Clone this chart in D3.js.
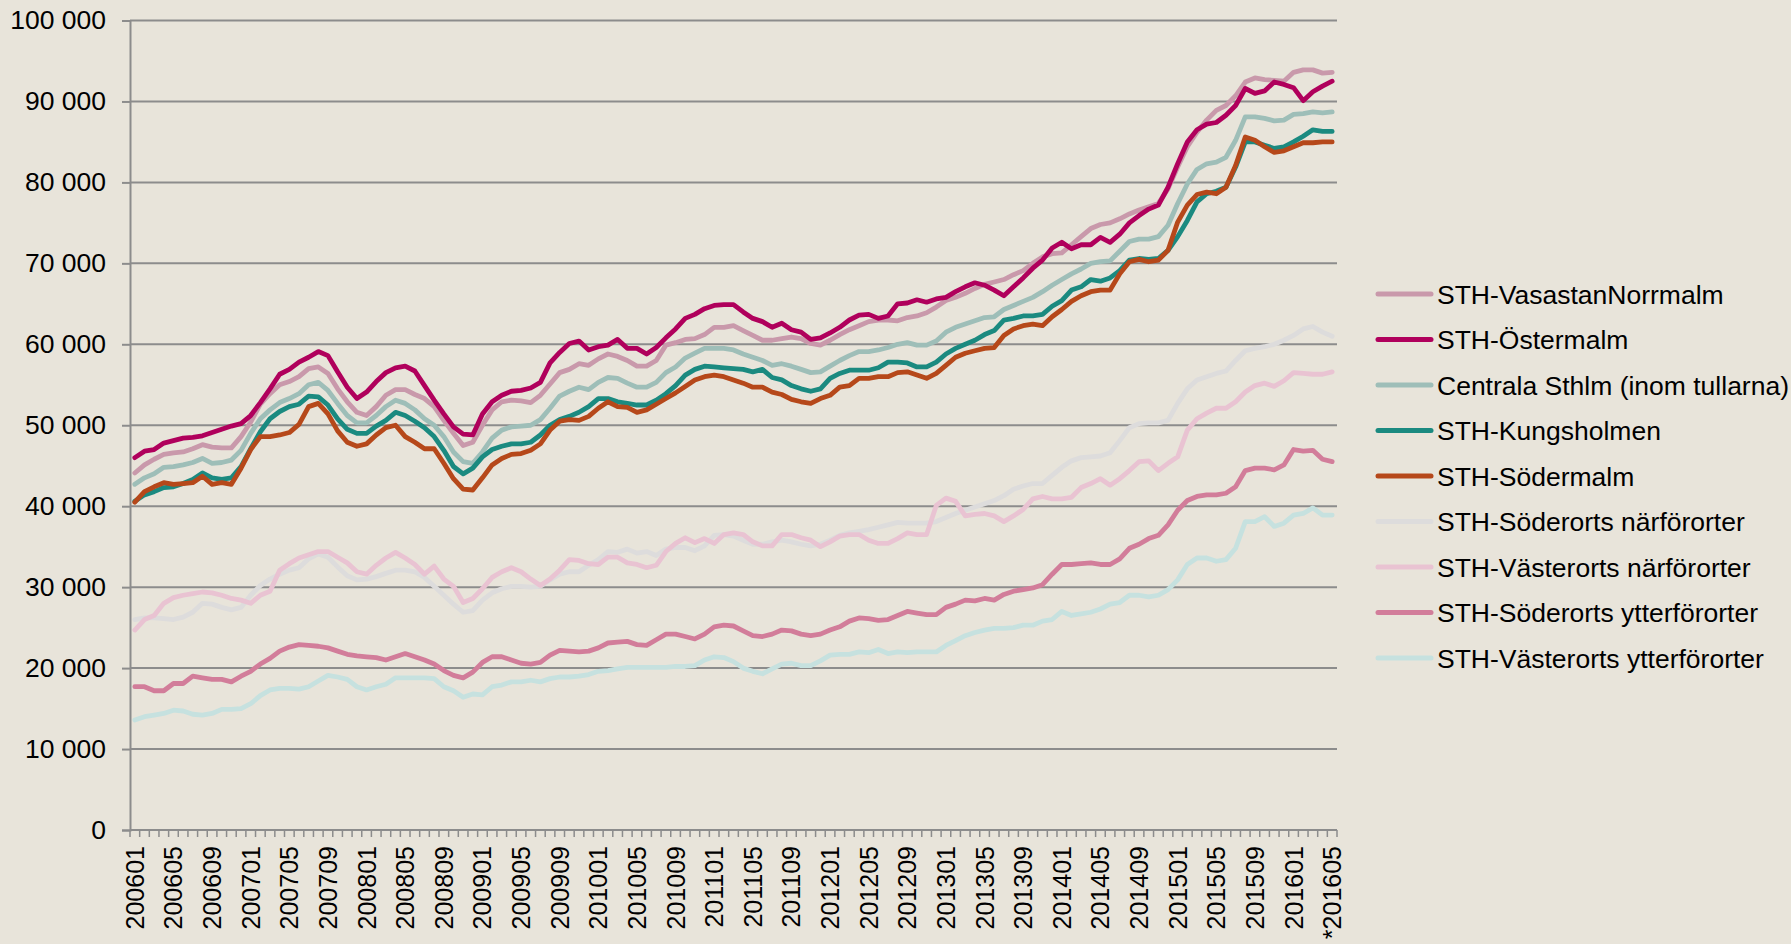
<!DOCTYPE html>
<html><head><meta charset="utf-8">
<script src="https://cdn.jsdelivr.net/npm/d3@7"></script>
<style>
html,body{margin:0;padding:0;background:#e8e4da;}
svg{display:block;}
text{font-family:"Liberation Sans",Arial,Helvetica,sans-serif;fill:#000;}
</style>
</head><body>
<svg id="chart" width="1791" height="944"></svg>
<script>
// Categories: monthly, 200601 .. 201605
const months = [];
for (let yr = 2006; yr <= 2016; yr++) {
  for (let m = 1; m <= 12; m++) {
    if (yr === 2016 && m > 5) break;
    months.push(String(yr) + String(m).padStart(2, "0"));
  }
}
const tickLabels = ["200601","200605","200609","200701","200705","200709","200801","200805","200809",
  "200901","200905","200909","201001","201005","201009","201101","201105","201109","201201","201205",
  "201209","201301","201305","201309","201401","201405","201409","201501","201505","201509","201601","*201605"];
const yTicks = [0,10000,20000,30000,40000,50000,60000,70000,80000,90000,100000];

// Series values (thousands), one per month
const vasastan = [44.1,45.1,45.8,46.4,46.6,46.7,47.1,47.6,47.3,47.2,47.2,48.6,50.4,52.6,53.9,55.0,55.4,56.0,57.0,57.2,56.4,54.5,52.9,51.6,51.2,52.3,53.7,54.4,54.4,53.8,53.3,52.3,
  50.6,49.0,47.5,47.9,50.0,51.9,52.9,53.1,53.0,52.8,53.7,55.1,56.5,56.9,57.6,57.4,58.2,58.8,58.5,58.0,57.3,57.3,58.0,59.9,60.2,60.6,60.7,61.2,62.1,
  62.1,62.3,61.7,61.1,60.5,60.5,60.7,60.9,60.7,60.1,59.9,60.5,61.2,61.8,62.3,62.8,63.0,63.0,62.9,63.3,63.5,63.9,64.6,65.4,65.8,66.3,66.9,67.4,67.7,68.0,68.6,
  69.1,70.0,70.8,71.2,71.3,72.3,73.3,74.3,74.8,75.0,75.5,76.1,76.6,77.0,77.4,79.2,81.9,84.4,86.2,87.7,88.9,89.5,90.7,92.4,92.9,92.7,92.6,92.5,93.6,93.9,93.9,93.5,93.6];
const ostermalm = [46.0,46.8,47.0,47.8,48.1,48.4,48.5,48.7,49.1,49.5,49.9,50.2,51.2,52.8,54.5,56.3,56.9,57.8,58.4,59.1,58.6,56.6,54.7,53.3,54.1,55.4,56.5,57.1,57.3,56.7,54.9,53.1,
  51.4,49.8,48.9,48.8,51.4,52.9,53.7,54.2,54.3,54.6,55.3,57.7,59.0,60.1,60.4,59.3,59.7,59.9,60.6,59.5,59.5,58.8,59.6,60.8,61.9,63.2,63.7,64.4,64.8,
  64.9,64.9,64.0,63.2,62.8,62.1,62.6,61.8,61.5,60.6,60.8,61.4,62.1,63.0,63.6,63.7,63.2,63.5,65.0,65.1,65.5,65.2,65.6,65.8,66.5,67.1,67.6,67.3,66.7,66.0,67.1,
  68.2,69.4,70.4,71.9,72.6,71.8,72.3,72.3,73.2,72.6,73.6,75.0,75.9,76.7,77.2,79.4,82.3,85.0,86.5,87.2,87.4,88.3,89.5,91.6,91.0,91.3,92.4,92.1,91.7,90.1,91.2,91.9,92.5];
const centrala = [42.7,43.5,44.0,44.8,44.9,45.1,45.4,45.9,45.3,45.4,45.7,46.9,49.0,50.8,51.9,52.8,53.3,53.9,55.0,55.3,54.3,52.7,51.2,50.3,50.3,51.2,52.3,53.1,52.7,51.9,50.8,50.0,
  48.6,46.7,45.5,45.3,46.7,48.4,49.4,49.8,49.9,50.0,50.7,52.1,53.6,54.2,54.7,54.4,55.3,55.9,55.8,55.2,54.7,54.7,55.3,56.5,57.2,58.3,58.9,59.5,59.5,
  59.5,59.3,58.8,58.4,58.0,57.4,57.6,57.3,56.9,56.5,56.6,57.3,58.0,58.6,59.1,59.1,59.3,59.6,60.0,60.2,59.9,59.9,60.4,61.5,62.1,62.5,62.9,63.3,63.4,64.3,64.8,
  65.3,65.8,66.5,67.3,68.0,68.7,69.3,70.0,70.2,70.3,71.5,72.7,73.0,73.0,73.3,74.7,77.4,79.8,81.6,82.3,82.5,83.1,85.2,88.1,88.1,87.9,87.6,87.7,88.4,88.5,88.7,88.6,88.7];
const kungsholmen = [40.6,41.4,41.8,42.3,42.4,42.8,43.3,44.1,43.5,43.3,43.5,44.9,47.1,49.2,50.8,51.7,52.3,52.6,53.6,53.5,52.5,50.8,49.5,49.0,49.0,49.9,50.6,51.6,51.2,50.5,49.7,48.6,
  46.9,44.9,44.0,44.7,46.1,47.0,47.4,47.7,47.7,47.9,48.8,50.0,50.7,51.1,51.6,52.3,53.3,53.3,52.9,52.7,52.5,52.5,53.1,53.9,54.9,56.2,56.9,57.3,57.2,
  57.1,57.0,56.9,56.6,56.9,55.9,55.6,54.9,54.5,54.2,54.5,55.8,56.4,56.8,56.8,56.8,57.1,57.8,57.8,57.7,57.2,57.2,57.8,58.8,59.5,60.0,60.5,61.2,61.7,63.0,63.2,
  63.5,63.5,63.7,64.7,65.4,66.7,67.1,68.0,67.8,68.2,69.1,70.4,70.6,70.5,70.6,71.6,73.3,75.3,77.6,78.6,78.9,79.4,81.9,85.0,85.0,84.6,84.2,84.4,85.0,85.7,86.5,86.3,86.3];
const sodermalm = [40.5,41.8,42.4,42.9,42.7,42.8,42.9,43.7,42.7,42.9,42.7,44.7,47.0,48.6,48.6,48.8,49.1,50.1,52.3,52.7,51.4,49.3,47.9,47.4,47.7,48.8,49.7,50.0,48.6,47.9,47.1,47.1,
  45.3,43.4,42.1,42.0,43.5,45.1,45.9,46.4,46.5,46.9,47.7,49.4,50.5,50.7,50.6,51.1,52.1,52.9,52.3,52.2,51.6,51.9,52.6,53.3,54.0,54.8,55.6,56.0,56.2,
  56.0,55.6,55.2,54.7,54.7,54.1,53.8,53.2,52.9,52.7,53.3,53.7,54.7,54.9,55.8,55.8,56.0,56.0,56.5,56.6,56.2,55.8,56.4,57.4,58.4,58.9,59.2,59.5,59.6,61.1,61.9,
  62.3,62.5,62.3,63.4,64.3,65.3,66.0,66.5,66.7,66.7,68.7,70.2,70.5,70.2,70.4,71.6,75.1,77.2,78.5,78.8,78.6,79.4,82.1,85.6,85.2,84.4,83.7,83.9,84.4,84.9,84.9,85.0,85.0];
const soderortsNar = [26.0,26.2,26.2,26.1,26.0,26.3,26.9,28.0,27.9,27.5,27.2,27.5,29.0,30.2,31.0,31.6,32.1,32.4,33.5,34.1,33.7,32.5,31.4,30.9,31.0,31.3,31.7,32.1,32.1,31.9,31.2,30.1,
  29.0,27.9,26.9,27.1,28.4,29.3,29.8,30.1,30.1,30.0,30.1,30.9,31.6,31.9,31.9,32.7,33.4,34.4,34.3,34.7,34.2,34.4,33.9,34.7,34.9,34.9,34.5,35.1,36.4,
  36.5,36.3,35.8,35.3,35.3,35.6,35.8,35.6,35.3,35.1,35.3,35.8,36.4,36.7,36.9,37.1,37.4,37.7,38.0,37.9,37.9,37.9,38.1,38.6,39.1,39.5,39.9,40.3,40.7,41.3,42.1,
  42.5,42.8,42.8,43.8,44.8,45.6,46.0,46.1,46.2,46.6,48.1,49.7,50.2,50.3,50.3,50.6,52.7,54.5,55.6,56.0,56.4,56.7,58.0,59.2,59.5,59.7,60.0,60.5,61.1,61.9,62.2,61.5,61.0];
const vasterortsNar = [24.7,26.0,26.5,28.0,28.7,29.0,29.2,29.4,29.3,29.0,28.6,28.4,28.0,29.0,29.5,32.1,32.9,33.6,34.0,34.4,34.4,33.7,33.0,31.9,31.6,32.7,33.6,34.3,33.6,32.8,31.6,32.6,
  31.0,30.1,28.1,28.6,29.8,31.2,31.9,32.4,31.9,31.0,30.2,31.0,32.1,33.4,33.3,32.9,32.8,33.7,33.7,33.0,32.8,32.4,32.7,34.4,35.4,36.1,35.5,36.0,35.4,
  36.5,36.7,36.5,35.6,35.1,35.1,36.5,36.5,36.1,35.8,35.0,35.6,36.3,36.5,36.5,35.8,35.4,35.4,36.0,36.7,36.5,36.5,40.1,41.0,40.6,38.8,39.0,39.1,38.8,38.1,38.8,
  39.6,40.9,41.2,40.9,40.9,41.1,42.3,42.8,43.4,42.6,43.4,44.4,45.5,45.6,44.4,45.3,46.1,49.4,50.8,51.5,52.1,52.1,52.9,54.1,54.9,55.2,54.8,55.5,56.5,56.4,56.3,56.3,56.6];
const soderortsYtter = [17.7,17.7,17.2,17.2,18.1,18.1,19.0,18.8,18.6,18.6,18.3,19.0,19.6,20.5,21.2,22.1,22.6,22.9,22.8,22.7,22.5,22.1,21.7,21.5,21.4,21.3,21.0,21.4,21.8,21.4,21.0,20.5,
  19.7,19.1,18.8,19.5,20.7,21.4,21.4,21.0,20.6,20.5,20.7,21.6,22.2,22.1,22.0,22.1,22.5,23.1,23.2,23.3,22.9,22.8,23.5,24.2,24.2,23.9,23.6,24.2,25.1,
  25.3,25.2,24.6,24.0,23.9,24.2,24.7,24.6,24.2,24.0,24.2,24.7,25.1,25.8,26.2,26.1,25.9,26.0,26.5,27.0,26.8,26.6,26.6,27.5,27.9,28.4,28.3,28.6,28.4,
  29.1,29.5,29.7,29.9,30.3,31.6,32.8,32.8,32.9,33.0,32.8,32.8,
  33.5,34.8,35.3,36.0,36.4,37.7,39.5,40.7,41.2,41.4,41.4,41.6,42.4,44.4,44.7,44.7,44.5,45.1,47.0,46.8,46.9,45.8,45.5];
const vasterortsYtter = [13.6,14.0,14.2,14.4,14.8,14.7,14.3,14.2,14.4,14.9,14.9,15.0,15.6,16.6,17.3,17.5,17.5,17.4,17.7,18.4,19.1,18.9,18.6,17.7,17.3,17.7,18.0,18.8,18.8,18.8,18.8,18.7,
  17.7,17.2,16.4,16.8,16.7,17.7,17.9,18.3,18.3,18.5,18.3,18.7,18.9,18.9,19.0,19.2,19.6,19.7,19.9,20.1,20.1,20.1,20.1,20.1,20.2,20.2,20.3,21.0,21.4,21.3,20.8,
  20.0,19.6,19.3,19.9,20.5,20.6,20.3,20.3,20.9,21.6,21.7,21.7,22.0,21.9,22.3,21.8,22.0,21.9,22.0,22.0,22.0,22.8,23.4,24.0,24.4,24.7,24.9,
  24.9,25.0,25.3,25.3,25.8,26.0,27.0,26.5,26.7,26.9,27.3,27.9,28.1,29.0,29.0,28.8,29.0,29.7,30.9,32.8,33.6,33.6,33.2,33.4,34.8,
  38.1,38.1,38.7,37.5,37.9,38.9,39.1,39.8,38.9,38.9];

const seriesNames = ["STH-VasastanNorrmalm","STH-Östermalm","Centrala Sthlm (inom tullarna)","STH-Kungsholmen","STH-Södermalm",
  "STH-Söderorts närförorter","STH-Västerorts närförorter","STH-Söderorts ytterförorter","STH-Västerorts ytterförorter"];
const seriesValues = [vasastan, ostermalm, centrala, kungsholmen, sodermalm, soderortsNar, vasterortsNar, soderortsYtter, vasterortsYtter];
const seriesColors = ["#c999ab","#b0005c","#9ebeb8","#1b8a80","#b6481a","#dddcdc","#e9c3d2","#d27d9a","#c6e1df"];

const svg = d3.select("#chart");
const W = 1791, H = 944;
svg.append("rect").attr("width", W).attr("height", H).attr("fill", "#e8e4da");

const x = d3.scaleBand().domain(months).range([130, 1337]).paddingInner(0).paddingOuter(0);
const y = d3.scaleLinear().domain([0, 100000]).range([830, 20.5]);
const bw = x.bandwidth();
const gridColor = "#8c8c8c";

// gridlines
svg.append("g").selectAll("line").data(yTicks.filter(d => d > 0)).join("line")
  .attr("x1", 130).attr("x2", 1337)
  .attr("y1", d => y(d)).attr("y2", d => y(d))
  .attr("stroke", gridColor).attr("stroke-width", 2);

// y axis
const yAxis = d3.axisLeft(y).tickValues(yTicks).tickSize(8).tickPadding(16)
  .tickFormat(d => d3.format(",")(d).replace(/,/g, " "));
const gy = svg.append("g").attr("transform", "translate(130,0)").call(yAxis);
gy.select(".domain").attr("stroke", gridColor).attr("stroke-width", 2);
gy.selectAll(".tick line").attr("stroke", gridColor).attr("stroke-width", 2);
gy.selectAll(".tick text").attr("font-size", 26.5).attr("font-family", "'Liberation Sans', Arial, sans-serif").attr("fill", "#000");

// x axis line + ticks between categories
const gx = svg.append("g");
gx.append("line").attr("x1", 130).attr("x2", 1337).attr("y1", y(0)).attr("y2", y(0))
  .attr("stroke", gridColor).attr("stroke-width", 2);
const boundaries = months.map(m => x(m)).concat([x.range()[1]]);
gx.selectAll("line.tk").data(boundaries).join("line").attr("class", "tk")
  .attr("x1", d => d).attr("x2", d => d).attr("y1", y(0)).attr("y2", y(0) + 7)
  .attr("stroke", gridColor).attr("stroke-width", 1.5);
const labelMonths = months.filter((m, i) => i % 4 === 0);
gx.selectAll("text").data(labelMonths).join("text")
  .attr("transform", m => `translate(${x(m) + bw / 2},846) rotate(-90)`)
  .attr("text-anchor", "end").attr("dy", "0.36em").attr("font-size", 25)
  .text((m, i) => tickLabels[i]);

// lines
const line = d3.line().x((d, i) => x(months[i]) + bw / 2).y(d => y(d * 1000)).curve(d3.curveLinear);
svg.append("g").selectAll("path").data(seriesValues).join("path")
  .attr("d", d => line(d)).attr("fill", "none")
  .attr("stroke", (d, i) => seriesColors[i]).attr("stroke-width", 4.8)
  .attr("stroke-linejoin", "round").attr("stroke-linecap", "round");

// legend
const lg = svg.append("g");
const rows = lg.selectAll("g").data(seriesNames).join("g")
  .attr("transform", (d, i) => `translate(0,${294 + i * 45.5})`);
rows.append("line").attr("x1", 1378).attr("x2", 1431).attr("y1", 0).attr("y2", 0)
  .attr("stroke", (d, i) => seriesColors[i]).attr("stroke-width", 5).attr("stroke-linecap", "round");
rows.append("text").attr("x", 1437).attr("dy", "0.36em").attr("font-size", 26.5).text(d => d);
</script>
</body></html>
